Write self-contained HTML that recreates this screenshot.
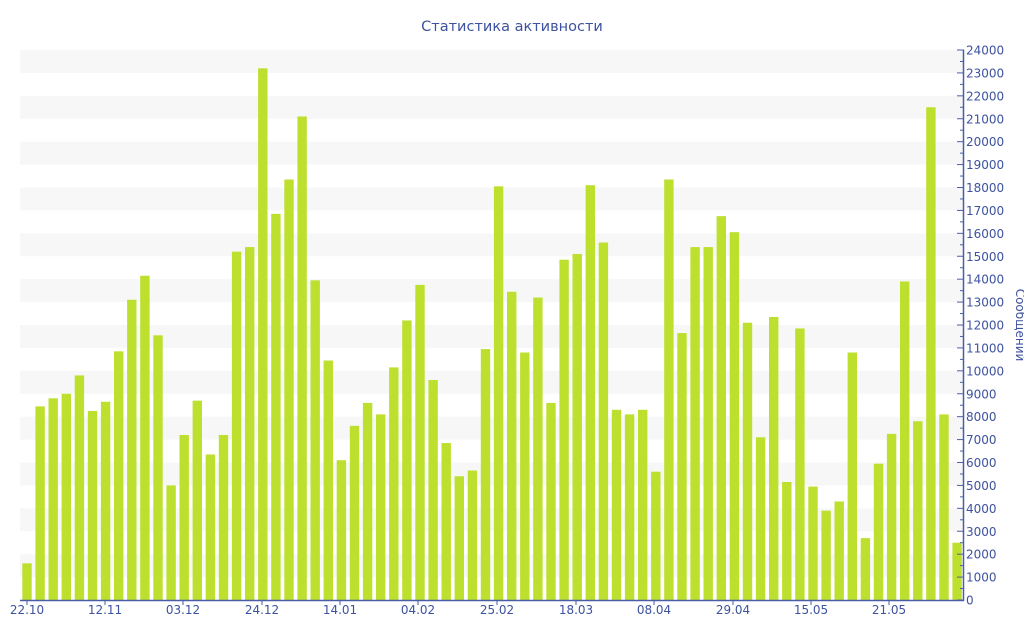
<!DOCTYPE html>
<html><head><meta charset="utf-8"><style>body{margin:0;background:#fff}svg{display:block}</style></head><body>
<svg width="1024" height="640" xmlns="http://www.w3.org/2000/svg" font-family="DejaVu Sans, Liberation Sans, sans-serif">
<text x="512" y="31" text-anchor="middle" font-size="14.5" fill="#3d52a0">Статистика активности</text>
<g id="stripes" fill="#f7f7f7"></g>
<g id="bars" fill="#bde02f"></g>
<line x1="20" y1="600.5" x2="964" y2="600.5" stroke="#4a5ea8" stroke-width="1.5"/>
<line x1="963.5" y1="50" x2="963.5" y2="601" stroke="#4a5ea8" stroke-width="1.5"/>
<g id="yt" font-size="12" fill="#3d52a0"></g>
<g id="xt" font-size="12" fill="#3d52a0" text-anchor="middle"></g>
<text transform="translate(1016,325) rotate(90)" text-anchor="middle" font-size="12" fill="#3d52a0">Сообщений</text>
</svg>
<script>
var ns="http://www.w3.org/2000/svg";
function el(p,t,a,txt){var e=document.createElementNS(ns,t);for(var k in a)e.setAttribute(k,a[k]);if(txt)e.textContent=txt;document.getElementById(p).appendChild(e);}
var Y=function(v){return 600-v*550/24000;};
for(var k=1;k<24;k+=2){el("stripes","rect",{x:20,y:Y((k+1)*1000),width:943,height:550/24});}
var v=[1600,8450,8800,9000,9800,8250,8650,10850,13100,14150,11550,5000,7200,8700,6350,7200,15200,15400,23200,16850,18350,21100,13950,10450,6100,7600,8600,8100,10150,12200,13750,9600,6850,5400,5650,10950,18050,13450,10800,13200,8600,14850,15100,18100,15600,8300,8100,8300,5600,18350,11650,15400,15400,16750,16050,12100,7100,12350,5150,11850,4950,3900,4300,10800,2700,5950,7250,13900,7800,21500,8100,2500];
var p=13.1;
v.forEach(function(d,i){var c=27+i*p;el("bars","rect",{x:c-4.7,y:Y(d),width:9.4,height:600-Y(d)});});
for(var t=0;t<=24;t++){var y=Y(t*1000);el("yt","line",{x1:957,x2:964,y1:y,y2:y,stroke:"#4a5ea8"});
if(t>0)el("yt","line",{x1:960,x2:964,y1:y+11.46,y2:y+11.46,stroke:"#4a5ea8"});
el("yt","text",{x:966,y:y+4.5},String(t*1000));}
var L=["22.10","12.11","03.12","24.12","14.01","04.02","25.02","18.03","08.04","29.04","15.05","21.05"];
var XP=[27,105,183,262,340,418,497,576,654,733,811,889];
L.forEach(function(s,i){el("xt","line",{x1:XP[i],x2:XP[i],y1:600,y2:605,stroke:"#4a5ea8"});el("xt","text",{x:XP[i],y:614},s);});
</script>
</body></html>
